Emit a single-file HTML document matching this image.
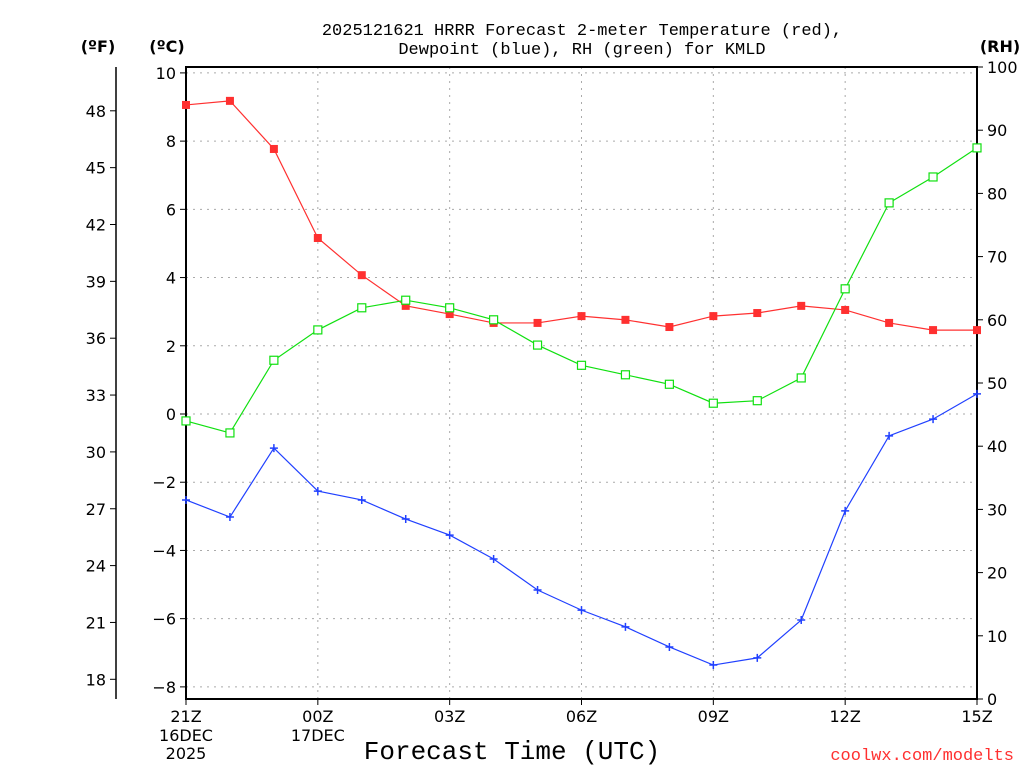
<!DOCTYPE html>
<html><head><meta charset="utf-8"><style>
body{margin:0;background:#fff;width:1024px;height:768px;overflow:hidden}
svg text{font-family:"DejaVu Sans","Liberation Sans",sans-serif}
svg text.mono{font-family:"Liberation Mono","DejaVu Sans Mono",monospace}
</style></head><body>
<svg id="c" width="1024" height="768">
<text class="mono" x="582" y="35" text-anchor="middle" font-size="17">2025121621 HRRR Forecast 2-meter Temperature (red),</text>
<text class="mono" x="582" y="54" text-anchor="middle" font-size="17">Dewpoint (blue), RH (green) for KMLD</text>
<text x="98" y="52" text-anchor="middle" font-size="16" font-weight="bold">(ºF)</text>
<text x="167" y="52" text-anchor="middle" font-size="16" font-weight="bold">(ºC)</text>
<text x="1000" y="52" text-anchor="middle" font-size="16" font-weight="bold">(RH)</text>
<text class="mono" x="512" y="759" text-anchor="middle" font-size="26">Forecast Time (UTC)</text>
<text class="mono" x="1014" y="760" text-anchor="end" font-size="17" fill="#ff3030">coolwx.com/modelts</text>
<g id="g"></g>
</svg>
<script>
const hours=[0,1,2,3,4,5,6,7,8,9,10,11,12,13,14,15,16,17,18];
const tempC=[9.06,9.18,7.77,5.16,4.07,3.17,2.93,2.67,2.67,2.87,2.76,2.55,2.87,2.96,3.17,3.05,2.67,2.46,2.46];
const dewC=[-2.52,-3.02,-1.0,-2.26,-2.52,-3.08,-3.55,-4.25,-5.16,-5.75,-6.24,-6.83,-7.36,-7.15,-6.04,-2.84,-0.64,-0.15,0.59];
const rh=[44.0,42.1,53.6,58.4,61.9,63.1,61.9,60.0,56.0,52.8,51.3,49.8,46.8,47.2,50.8,64.9,78.5,82.6,87.2];
const cTicks=[10,8,6,4,2,0,-2,-4,-6,-8];
const fTicks=[48,45,42,39,36,33,30,27,24,21,18];
const rhTicks=[100,90,80,70,60,50,40,30,20,10,0];
const xTickHours=[0,3,6,9,12,15,18];
const xTickLabels=["21Z","00Z","03Z","06Z","09Z","12Z","15Z"];
const xSub1=["16DEC","17DEC","","","","",""];
const xSub2=["2025","","","","","",""];
const L=186,R=977,T=67,B=699;
const xs=h=>L+h*(R-L)/18;
const yc=c=>414-c*34.11;
const yf=f=>yc((f-32)*5/9);
const yr=r=>B-r*(B-T)/100;
const g=document.getElementById('g');
const NS='http://www.w3.org/2000/svg';
function mk(t,a,p){const e=document.createElementNS(NS,t);for(const k in a)e.setAttribute(k,a[k]);(p||g).appendChild(e);return e;}
cTicks.forEach(c=>{
 const l=mk('line',{x1:L,x2:R,y1:yc(c),y2:yc(c),stroke:'#aaa','stroke-dasharray':'2,5'});
 
 
 mk('line',{x1:L-6,x2:L,y1:yc(c),y2:yc(c),stroke:'#000'});
 const t=mk('text',{x:L-10,y:yc(c)+6,'text-anchor':'end','font-size':16});
 t.textContent=c<0?'\u2212'+(-c):c;
 
 
});
xTickHours.forEach((h,i)=>{
 if(i>0&&i<xTickHours.length-1){const l=mk('line',{x1:xs(h),x2:xs(h),y1:T,y2:B,stroke:'#aaa','stroke-dasharray':'2,5'});
 
 }
 mk('line',{x1:xs(h),x2:xs(h),y1:B,y2:B+6,stroke:'#000'});
 const t=mk('text',{x:xs(h),y:722,'text-anchor':'middle','font-size':16});
 t.textContent=xTickLabels[i];
 
 
 [xSub1[i],xSub2[i]].forEach((s,j)=>{if(s){const u=mk('text',{x:xs(h),y:741+j*18,'text-anchor':'middle','font-size':16});u.textContent=s;
 
 }});
});
mk('line',{x1:116,x2:116,y1:T,y2:B,stroke:'#000','stroke-width':1.5});
fTicks.forEach(f=>{
 mk('line',{x1:110,x2:116,y1:yf(f),y2:yf(f),stroke:'#000'});
 const t=mk('text',{x:106,y:yf(f)+6,'text-anchor':'end','font-size':16});
 t.textContent=f;
 
 
});
rhTicks.forEach(r=>{
 mk('line',{x1:R,x2:R+6,y1:yr(r),y2:yr(r),stroke:'#000'});
 const t=mk('text',{x:R+10,y:yr(r)+6,'font-size':16});
 t.textContent=r;
 
 
});
const fr=mk('rect',{x:L,y:T,width:R-L,height:B-T,fill:'none',stroke:'#000','stroke-width':2});


function series(vals,yfn,col,name,marker){
 const pts=vals.map((v,i)=>xs(hours[i])+','+yfn(v)).join(' ');
 const pl=mk('polyline',{points:pts,fill:'none',stroke:col,'stroke-width':1.2});
 
 
 vals.forEach((v,i)=>{
  const x=xs(hours[i]),y=yfn(v);let m;
  if(marker==='fill')m=mk('rect',{x:x-4,y:y-4,width:8,height:8,fill:col});
  else if(marker==='open')m=mk('rect',{x:x-4,y:y-4,width:8,height:8,fill:'#fff',stroke:col,'stroke-width':1.2});
  else m=mk('path',{d:`M${x-4},${y}H${x+4}M${x},${y-4}V${y+4}`,stroke:col,'stroke-width':1.5});
  
  
 });
}
series(tempC,yc,'#ff3030','temperature','fill');
series(rh,yr,'#10e010','rh','open');
series(dewC,yc,'#2040ff','dewpoint','plus');
</script>
</body></html>
